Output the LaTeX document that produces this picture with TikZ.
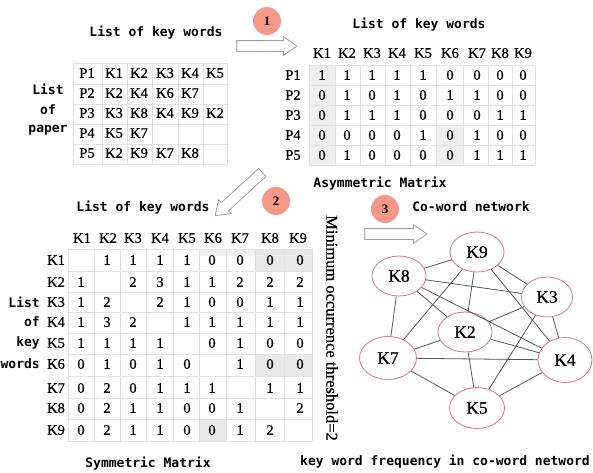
\documentclass[tikz,border=0pt]{standalone}
\usepackage{fontspec}
\setmainfont{Liberation Serif}
\newfontfamily\labfont{DejaVu Sans Mono}
\newfontfamily\cellfont[FakeBold=0.7]{Liberation Serif}
\usetikzlibrary{shapes.geometric,shapes.arrows}
\definecolor{badge}{RGB}{244,152,135}
\definecolor{ellc}{RGB}{226,112,128}
\definecolor{edgec}{RGB}{85,85,85}
\definecolor{gridc}{RGB}{226,226,226}
\definecolor{shadec}{RGB}{232,232,232}
\begin{document}
\begin{tikzpicture}[x=1pt,y=-1pt,
  lab/.style={font=\labfont\bfseries\fontsize{13}{13}\selectfont, inner sep=0pt},
  cell/.style={font=\cellfont\fontsize{14.5}{15}\selectfont, inner sep=0pt},
  badgenode/.style={circle, fill=badge, minimum size=28pt, inner sep=0pt, font=\bfseries\fontsize{13}{13}\selectfont},
  kw/.style={ellipse, draw=ellc, line width=0.8pt, fill=white, minimum width=54pt, minimum height=40pt, inner sep=0pt, font=\cellfont\fontsize{17.5}{18}\selectfont},
  link/.style={draw=edgec, line width=0.8pt},
  gridline/.style={draw=gridc, line width=0.5pt},
  harrow/.style={single arrow, draw=gray!75, fill=white, line width=0.8pt, inner xsep=0pt, inner ysep=5pt, single arrow head extend=4pt, single arrow tip angle=70}
]
\path[use as bounding box, fill=white] (0,0) rectangle (593,472);

% ---------- shading (scan tones) ----------
\fill[shadec!70] (309,65) rectangle (335,165);
\fill[shadec!70] (436,125) rectangle (463,165);
\fill[shadec] (255,249) rectangle (312,271);
\fill[shadec!60] (199,249) rectangle (255,256);
\fill[shadec] (255,354) rectangle (312,376);
\fill[shadec] (199,419) rectangle (226,441);

% ---------- grids ----------
\foreach \gx in {73,102,127,152,178,203,227} \draw[gridline] (\gx,63) -- (\gx,164);
\foreach \gy in {63,84,104,124,144,164} \draw[gridline] (73,\gy) -- (227,\gy);
\foreach \gx in {309,335,360,385,410,436,463,488,512,535} \draw[gridline] (\gx,65) -- (\gx,165);
\foreach \gy in {65,85,105,125,145,165} \draw[gridline] (309,\gy) -- (535,\gy);
\foreach \gx in {68,94,120,146,173,199,226,255,284,312} \draw[gridline] (\gx,249) -- (\gx,441);
\foreach \gy in {249,271,292,312,333,354,376,398,419,441} \draw[gridline] (68,\gy) -- (312,\gy);

% ---------- titles ----------
\node[lab] (t1) at (156,33) {List of key words};
\node[lab] (t2) at (419,25) {List of key words};
\node[lab] (t3) at (380,184) {Asymmetric Matrix};
\node[lab] (t4) at (143,208) {List of key words};
\node[lab] (t5) at (148,464) {Symmetric Matrix};
\node[lab] (t6) at (471,207) {Co-word network};
\node[lab] (t7) at (445,462) {key word frequency in co-word netword};

\node[lab] (lp1) at (48,89) {List};
\node[lab] (lp2) at (48,110) {of};
\node[lab] (lp3) at (48,130) {paper};

\node[lab, anchor=east] (lk1) at (40,302) {List};
\node[lab, anchor=east] (lk2) at (40,322) {of};
\node[lab, anchor=east] (lk3) at (40,343) {key};
\node[lab, anchor=east] (lk4) at (40,364) {words};

% ---------- badges and arrows ----------
\node[badgenode] (b1) at (267,21) {1};
\node[badgenode] (b2) at (276,201) {2};
\node[badgenode] (b3) at (385,209) {3};
\node[harrow, minimum height=60pt] (a1) at (263,46) {};
\node[harrow, minimum height=64pt, rotate=222.5] (a2) at (241.5,191.5) {};
\node[harrow, minimum height=62pt] (a3) at (392,234) {};

% ---------- top-left list ----------
\foreach \row [count=\i] in {{P1,K1,K2,K3,K4,K5},{P2,K2,K4,K6,K7},{P3,K3,K8,K4,K9,K2},{P4,K5,K7},{P5,K2,K9,K7,K8}} {
  \foreach \v [count=\j] in \row {
    \pgfmathsetmacro\cx{{87,114,139,165,190,215}[\j-1]}
    \pgfmathsetmacro\cy{{73,93,113,133,153}[\i-1]}
    \node[cell] (tl\i-\j) at (\cx,\cy) {\v};
  }
}

% ---------- top-right asymmetric matrix ----------
\foreach \c [count=\j] in {322,347,372,397,423,450,477,500,523} {
  \node[cell] (trh\j) at (\c,53) {K\j};
}
\foreach \row [count=\i] in {{1,1,1,1,1,0,0,0,0},{0,1,0,1,0,1,1,0,0},{0,1,1,1,0,0,0,1,1},{0,0,0,0,1,0,1,0,0},{0,1,0,0,0,0,1,1,1}} {
  \pgfmathsetmacro\cy{{75,95,115,135,155}[\i-1]}
  \node[cell] (trp\i) at (293,\cy) {P\i};
  \foreach \v [count=\j] in \row {
    \pgfmathsetmacro\cx{{322,347,372,397,423,450,477,500,523}[\j-1]}
    \node[cell] (tr\i-\j) at (\cx,\cy) {\v};
  }
}

% ---------- bottom symmetric matrix ----------
\foreach \c [count=\j] in {82,108,133,160,187,213,240,270,298} {
  \node[cell] (bmh\j) at (\c,238) {K\j};
}
\foreach \row [count=\i] in {{0,1,1,1,1,0,0,0,0},{1,0,2,3,1,1,2,2,2},{1,2,0,2,1,0,0,1,1},{1,3,2,0,1,1,1,1,1},{1,1,1,1,0,0,1,0,0},{0,1,0,1,0,0,1,0,0},{0,2,0,1,1,1,0,1,1},{0,2,1,1,0,0,1,0,2},{0,2,1,1,0,0,1,2,0}} {
  \pgfmathsetmacro\cy{{260,282,302,322,343,364,388,408,430}[\i-1]}
  \node[cell] (bmk\i) at (56,\cy) {K\i};
  \foreach \v [count=\j] in \row {
    \ifnum\i=\j\relax\else
      \pgfmathsetmacro\cx{{81,107,133,160,187,212,240,270,300}[\j-1]}
      \node[cell] (bm\i-\j) at (\cx,\cy) {\v};
    \fi
  }
}

% ---------- threshold ----------
\node[rotate=-90, inner sep=0pt, font=\cellfont\fontsize{16.5}{17}\selectfont] (thr) at (332,328) {Minimum occurrence threshold=2};

% ---------- co-word network ----------
\node[kw] (k9) at (477,252) {K9};
\node[kw] (k8) at (399,276) {K8};
\node[kw, minimum width=51pt] (k3) at (547,297) {K3};
\node[kw] (k2) at (465,332) {K2};
\node[kw, minimum width=57pt, minimum height=43pt] (k7) at (388,358) {K7};
\node[kw, minimum height=45pt] (k4) at (565,360) {K4};
\node[kw, minimum width=55pt, minimum height=41pt] (k5) at (477,408) {K5};

\foreach \a/\b in {k8/k9,k9/k3,k8/k3,k8/k4,k8/k2,k8/k7,k9/k7,k9/k2,k9/k4,k7/k2,k2/k3,k2/k4,k2/k5,k3/k4,k3/k5,k7/k4,k7/k5,k5/k4}
  \draw[link] (\a) -- (\b);
\end{tikzpicture}
\end{document}
